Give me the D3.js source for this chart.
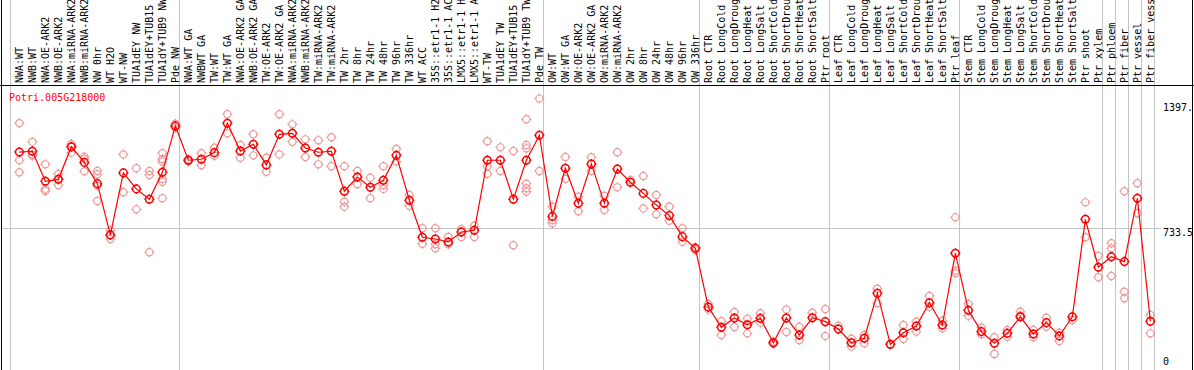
<!DOCTYPE html>
<meta charset="utf-8">
<script src="https://cdn.jsdelivr.net/npm/d3@7"></script>
<style type="text/css">
body { margin: 0; background: #fff; }
text { font-family: "DejaVu Sans Mono", monospace; font-size: 10px; }
.frame { stroke: #000; stroke-width: 1px; fill: none; }
.grid { stroke: #c4c4c4; stroke-width: 1px; }
.meanline { fill: none; stroke: #f00; stroke-width: 1.2px; }
.rep { fill: none; stroke: #ec9a9a; stroke-width: 1.2px; }
.mean { fill: none; stroke: #f00; stroke-width: 1.5px; }
</style>
<body>
<script>

// sample labels, one per column
var samples = ["NWA:WT","NWB:WT","NWA:OE-ARK2","NWB:OE-ARK2","NWA:miRNA-ARK2","NWB:miRNA-ARK2","NW 0hr","WT H2O","WT-NW","TUA1dEY NW","TUA1dEY+TUB15 NW","TUA1dY+TUB9 NW","Pde NW",
  "NWA:WT GA","NWBWT GA","TW:WT","TW:WT GA","NWA:OE-ARK2 GA","NWB:OE-ARK2 GA","TW:OE-ARK2","TW:OE-ARK2 GA","NWA:miRNA-ARK2","NWB:miRNA-ARK2","TW:miRNA-ARK2","TW:miRNA-ARK2","TW 2hr","TW 8hr","TW 24hr","TW 48hr","TW 96hr","TW 336hr","WT ACC","35S::etr1-1 H2O","35S::etr1-1 ACC","LMX5::etr1-1 H2O","LMX5::etr1-1 ACC","WT-TW","TUA1dEY TW","TUA1dEY+TUB15 TW","TUA1dY+TUB9 TW","Pde TW",
  "OW:WT","OW:WT GA","OW:OE-ARK2","OW:OE-ARK2 GA","OW:miRNA-ARK2","OW:miRNA-ARK2","OW 2hr","OW 8hr","OW 24hr","OW 48hr","OW 96hr","OW 336hr",
  "Root CTR","Root LongCold","Root LongDrought","Root LongHeat","Root LongSalt","Root ShortCold","Root ShortDrought","Root ShortHeat","Root ShortSalt","Ptr root",
  "Leaf CTR","Leaf LongCold","Leaf LongDrought","Leaf LongHeat","Leaf LongSalt","Leaf ShortCold","Leaf ShortDrought","Leaf ShortHeat","Leaf ShortSalt","Ptr leaf",
  "Stem CTR","Stem LongCold","Stem LongDrought","Stem LongHeat","Stem LongSalt","Stem ShortCold","Stem ShortDrought","Stem ShortHeat","Stem ShortSalt","Ptr shoot","Ptr xylem",
  "Ptr phloem","Ptr fiber","Ptr vessel","Ptr fiber vessel"];

// column index where each group starts (grey separators)
var groupStarts = [0, 13, 41, 53, 63, 73, 84, 85, 86, 87, 88];

// mean expression per sample
var means = [1123,1127,973,983,1150,1070,961,698,1016,934,881,1019,1257,
  1081,1086,1120,1271,1128,1163,1057,1214,1219,1144,1122,1127,922,995,942,978,1106,876,686,677,662,713,722,1081,1081,881,1081,1209,
  793,1040,860,1062,860,1036,968,911,851,797,689,629,
  328,224,272,237,270,145,272,185,273,253,
  215,145,168,399,137,196,231,350,236,604,
  311,202,142,193,278,190,248,180,278,778,532,
  586,561,886,255];

// replicate values per sample
var reps = [[1271,1081,1019],[1175,1104,1110],[1060,934,923],[1010,954,983],[1164,1120,1150],[1099,1087,1024],[1026,1009,950,872],[720,677,697],[1111,917],[1040,829],[1026,1005,609],[1117,1087,1074,985,971,886],[1268,1248],
  [1075,1085],[1117,1055],[1145,1104],[1317,1219],[1159,1094],[1214,1106],[1094,1022],[1317,1111],[1265,1176],[1188,1098],[1183,1060],[1199,1050],[1050,868,843],[1026,958],[991,886],[1050,954,934],[1139,1074],[903,848],[732,653],[732,650,629],[687,650],[727,687],[745,687],[1178,1050,1012],[1147,1026],[1128,645],[1291,1159,1142,961,937,920],[1397,1026],
  [843,774,758],[1098,986],[894,819],[1096,1027],[898,826],[1122,942],[980],[1000,834],[903,804],[843,771],[732,663],[635,620],
  [344,316],[255,185],[303,226],[268,193],[296,248],[140,150],[316,200],[227,159],[299],[318,180],
  [232],[166,125],[185,142],[422,347],[135],[236,164],[253,202],[385,330],[258,219],[788,514,501],
  [344,284],[222,188],[173,87],[210,176],[304,285],[210,173],[273,227],[196,154],[262],[865,686],[590,481],
  [655,629,487],[922,407,373],[963,809],[287,193]];

var yTicks = [1397, 733.5, 0];
var title = "Potri.005G218000";

var w = 1194, h = 370,
    plotTop = 85, plotLeft = 10, plotRight = 1154, plotBottom = 371;

var svg = d3.select("body").append("svg")
    .attr("width", w)
    .attr("height", h);

svg.append("rect").attr("width", w).attr("height", h).attr("fill", "#fff");

var x = d3.scaleBand()
    .domain(d3.range(samples.length))
    .range([plotLeft, plotRight]);

var y = d3.scaleLinear()
    .domain([0, d3.max(reps, function(r) { return d3.max(r); }) * 1.05])
    .range([plotBottom, plotTop]);

function cx(i) { return x(i) + x.bandwidth() * 0.72; }

// group separators
svg.selectAll(".vsep")
    .data(groupStarts)
  .enter().append("line")
    .attr("class", "grid")
    .attr("x1", function(d) { return Math.round(plotLeft + d * x.step()) + 0.5; })
    .attr("x2", function(d) { return Math.round(plotLeft + d * x.step()) + 0.5; })
    .attr("y1", 0)
    .attr("y2", h);

// middle gridline
svg.append("line")
    .attr("class", "grid")
    .attr("x1", 2).attr("x2", 1161)
    .attr("y1", Math.round(y(733.5)) + 0.5)
    .attr("y2", Math.round(y(733.5)) + 0.5);

// frame
svg.append("line").attr("class", "frame").attr("x1", 1.5).attr("x2", 1.5).attr("y1", 0).attr("y2", h);
svg.append("line").attr("class", "frame").attr("x1", 1192.5).attr("x2", 1192.5).attr("y1", 0).attr("y2", h);
svg.append("line").attr("class", "frame").attr("x1", 0).attr("x2", w).attr("y1", plotTop + 0.5).attr("y2", plotTop + 0.5);

// rotated sample labels
svg.selectAll(".sample")
    .data(samples)
  .enter().append("text")
    .attr("class", "sample")
    .attr("transform", function(d, i) { return "translate(" + (cx(i) + 3.4) + "," + (plotTop - 2) + ") rotate(-90)"; })
    .attr("fill", "#000")
    .text(function(d) { return d; });

// y labels
svg.selectAll(".ylab")
    .data(yTicks)
  .enter().append("text")
    .attr("class", "ylab")
    .attr("x", 1163)
    .attr("y", function(d) { return Math.max(plotTop + 26, Math.min(365, y(d) + 8.5)); })
    .attr("fill", "#000")
    .text(function(d) { return d === 1397 ? "1397." : String(d); });

svg.append("text")
    .attr("x", 9)
    .attr("y", 101)
    .attr("fill", "#f00")
    .text(title);

var tick = "M0,-5V-3.5M0,3.5V5M-5,0H-3.5M3.5,0H5";

// replicate markers
var repPts = [];
reps.forEach(function(r, i) { r.forEach(function(v) { repPts.push([i, v]); }); });

var rp = svg.append("g").selectAll("g")
    .data(repPts)
  .enter().append("g")
    .attr("class", "rep")
    .attr("transform", function(d) { return "translate(" + cx(d[0]) + "," + y(d[1]) + ")"; });
rp.append("circle").attr("r", 3.6);
rp.append("path").attr("d", tick);

// mean line
svg.append("path")
    .datum(means)
    .attr("class", "meanline")
    .attr("d", d3.line()
        .x(function(d, i) { return cx(i); })
        .y(function(d) { return y(d); }));

var mp = svg.append("g").selectAll("g")
    .data(means)
  .enter().append("g")
    .attr("class", "mean")
    .attr("transform", function(d, i) { return "translate(" + cx(i) + "," + y(d) + ")"; });
mp.append("circle").attr("r", 3.8);
mp.append("path").attr("d", tick);

</script>
</body>
</html>
